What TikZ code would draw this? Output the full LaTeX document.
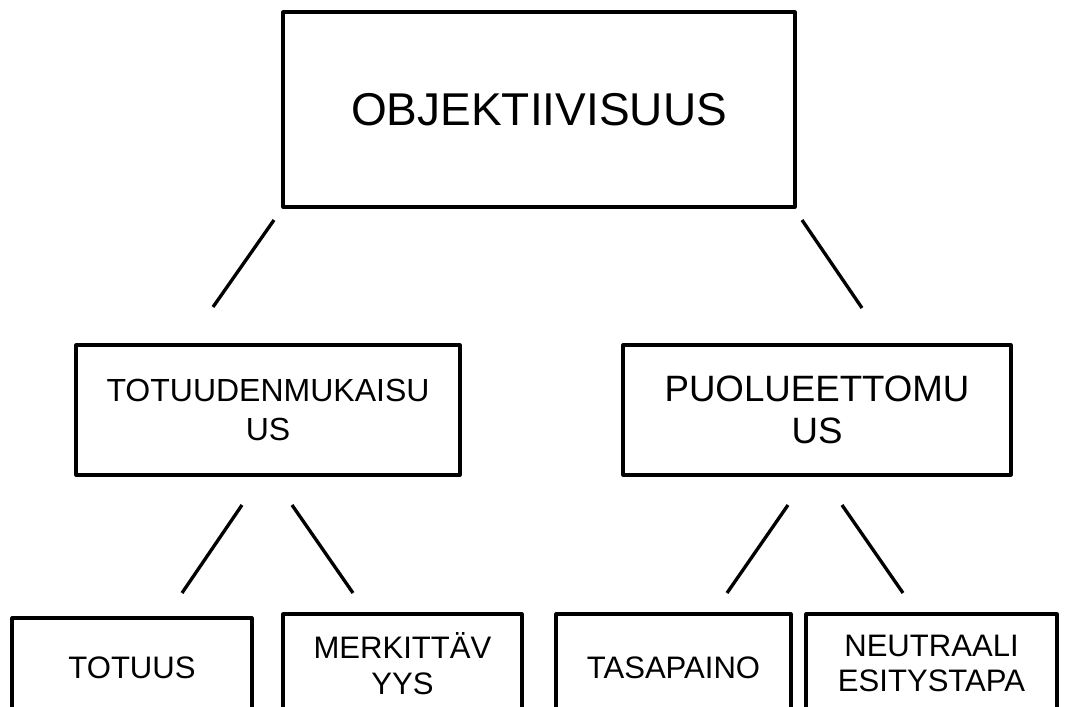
\documentclass[tikz,border=0pt]{standalone}
\usepackage{fontspec}
\setmainfont{Liberation Sans}
\begin{document}
\begin{tikzpicture}[x=0.75pt,y=-0.75pt,
  box/.style={draw, line width=2.3pt, line join=round, rectangle, inner sep=0pt, align=center},
  seg/.style={line width=2.5pt}]
\useasboundingbox (0,0) rectangle (1065,707);
\clip (0,0) rectangle (1065,707);
% top
\node[box, minimum width=384pt, minimum height=146.25pt, font=\fontsize{34.5}{39.5}\selectfont] (obj) at (539,109.5) {OBJEKTIIVISUUS};
% second row
\node[box, minimum width=288pt, minimum height=97.5pt, font=\fontsize{24}{29}\selectfont] (tot) at (268,410) {TOTUUDENMUKAISU\\US};
\node[box, minimum width=291pt, minimum height=97.5pt, font=\fontsize{27.5}{31.5}\selectfont] (puo) at (817,410) {PUOLUEETTOMU\\US};
% bottom row
\node[box, minimum width=180pt, minimum height=74.25pt, font=\fontsize{23.3}{26.5}\selectfont] (totuus) at (132,667.5) {TOTUUS};
\node[box, minimum width=179.25pt, minimum height=74.25pt, font=\fontsize{23.3}{26.5}\selectfont] (merk) at (402.5,663.5) {MERKITTÄV\\YYS};
\node[box, minimum width=176.25pt, minimum height=80.25pt, font=\fontsize{23.3}{26.5}\selectfont] (tasa) at (673.5,667.5) {TASAPAINO};
\node[box, minimum width=188.25pt, minimum height=74.25pt, font=\fontsize{23.3}{26.5}\selectfont] (neut) at (931.5,663.5) {NEUTRAALI\\ESITYSTAPA};
% connector end points
\coordinate (a1) at (274,220); \coordinate (a2) at (213,307);
\coordinate (b1) at (802,220); \coordinate (b2) at (862,308);
\coordinate (c1) at (242,505); \coordinate (c2) at (182,593);
\coordinate (d1) at (292,505); \coordinate (d2) at (353,593);
\coordinate (e1) at (788,505); \coordinate (e2) at (727,593);
\coordinate (f1) at (842,505); \coordinate (f2) at (903,593);
\draw[seg] (a1) -- (a2);
\draw[seg] (b1) -- (b2);
\draw[seg] (c1) -- (c2);
\draw[seg] (d1) -- (d2);
\draw[seg] (e1) -- (e2);
\draw[seg] (f1) -- (f2);
\end{tikzpicture}
\end{document}
